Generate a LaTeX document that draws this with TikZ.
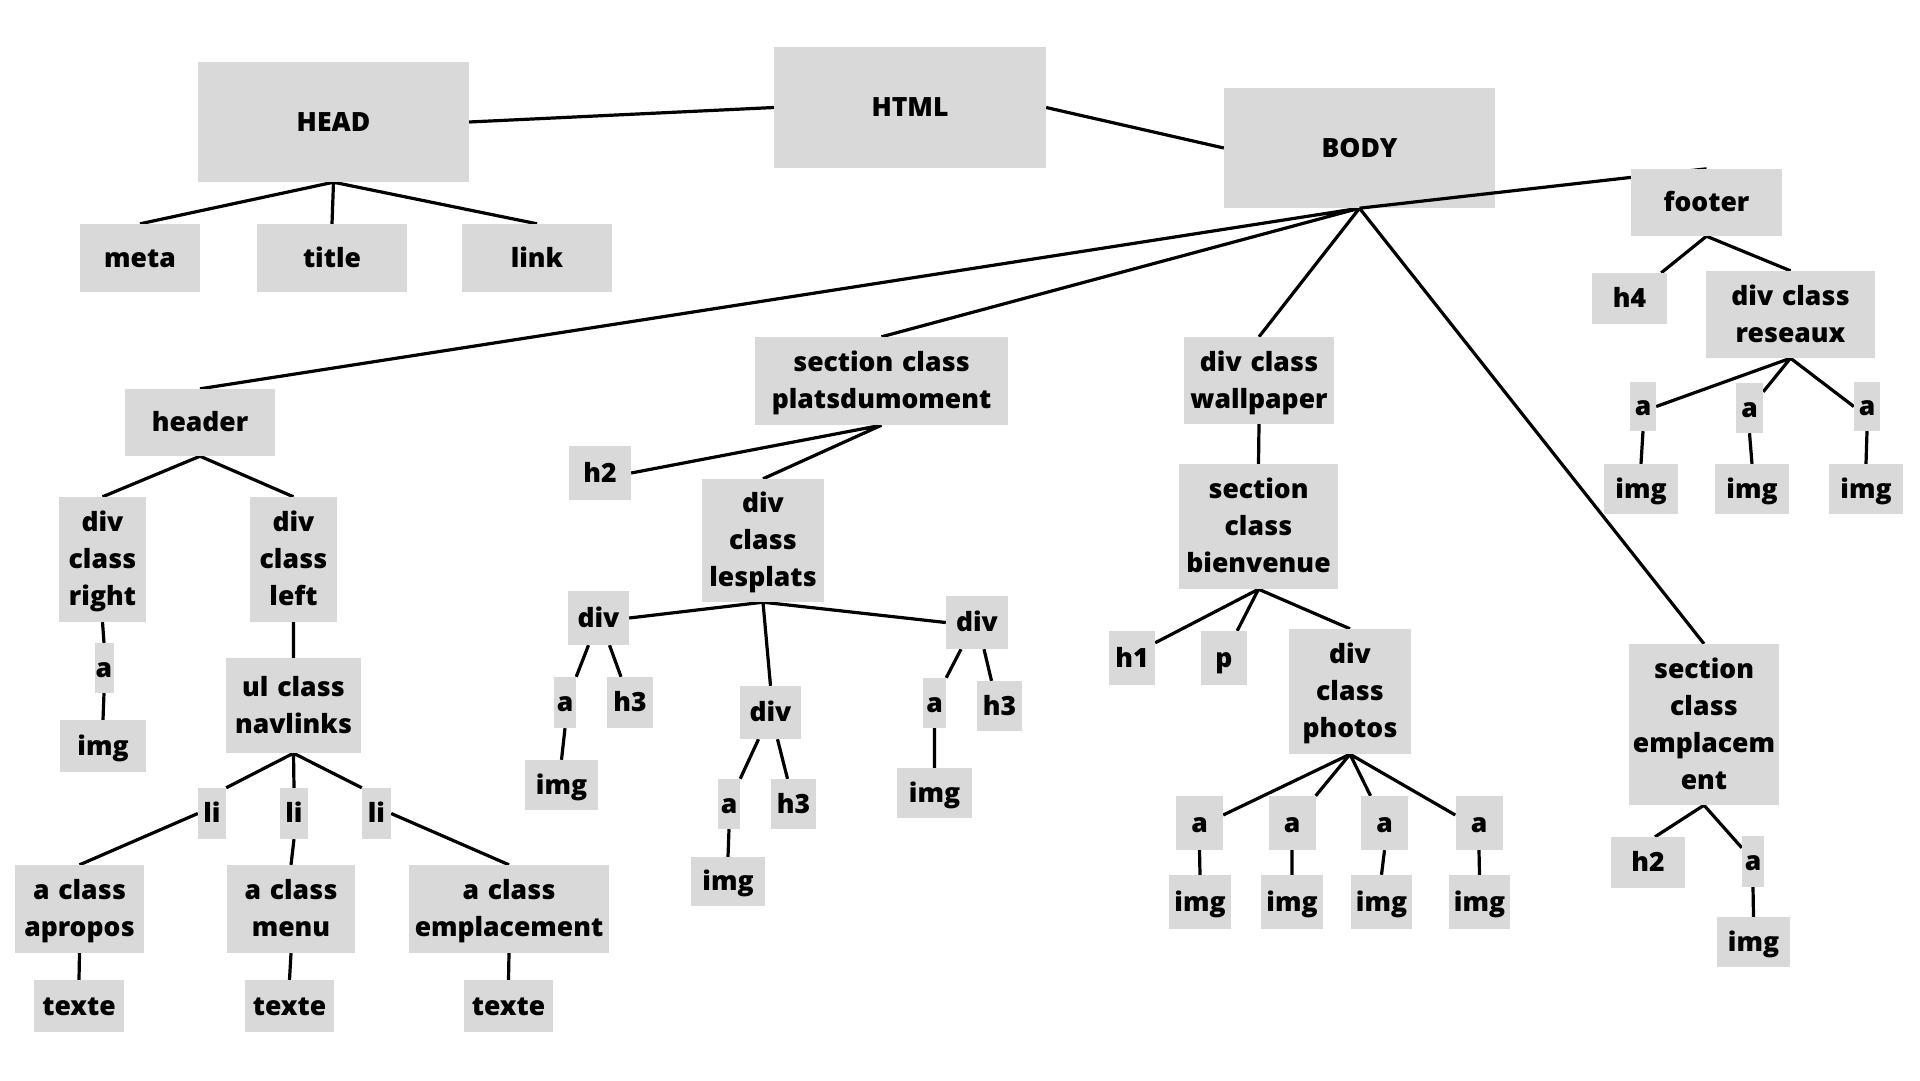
\documentclass[tikz,border=0pt]{standalone}
\usepackage{fontspec}
\IfFontExistsTF{Open Sans ExtraBold}{\setmainfont{Open Sans}[BoldFont={Open Sans ExtraBold}]}
{\IfFontExistsTF{Open Sans Extrabold}{\setmainfont{Open Sans}[BoldFont={Open Sans Extrabold}]}
{\setmainfont{Open Sans}[BoldFeatures={FakeBold=1.5}]}}
\definecolor{tagfill}{HTML}{D9D9D9}
\newcommand\tagstrut{\rule[-9.5pt]{0pt}{37pt}}
\pgfdeclarelayer{bg}\pgfdeclarelayer{fg}\pgfsetlayers{bg,main,fg}

\begin{document}
\begin{tikzpicture}[x=1pt,y=-1pt,
tag/.style={fill=tagfill,inner sep=0pt,align=center,font=\fontsize{26.5}{37}\selectfont\bfseries,
execute at begin node=\tagstrut,execute at end node=\tagstrut},
wh/.style 2 args={text width=#1pt,minimum width=#1pt,minimum height=#2pt},
wire/.style={line width=3.2pt}]
\useasboundingbox(0,0)rectangle(1920,1080);
\node[tag,wh={271}{120}](head)at(333.5,122){HEAD};\node[tag,wh={272}{121}](html)at(910,107.5){HTML};
\node[tag,wh={271}{120}](body)at(1359.5,148){BODY};
\node[tag,wh={120}{68}](meta)at(140,258){meta};\node[tag,wh={150}{68}](title)at(332,258){title};
\node[tag,wh={150}{68}](link)at(537,258){link};
\node[tag,wh={150}{67}](header)at(200,422.5){header};
\node[tag,wh={87}{125}](right)at(102.5,559.5){div\\class\\right};\node[tag,wh={87}{125}](left)at(293.5,559.5){div\\class\\left};
\node[tag,wh={19}{50}](ra)at(104,668){a};\node[tag,wh={86}{52}](rimg)at(103,746){img};
\node[tag,wh={135}{95}](navlinks)at(293.5,705.5){ul class\\navlinks};
\node[tag,wh={28}{51}](li1)at(212,813.5){li};\node[tag,wh={28}{51}](li2)at(294,813.5){li};
\node[tag,wh={29}{51}](li3)at(376.5,813.5){li};
\node[tag,wh={129}{88}](apropos)at(79.5,909){a class\\apropos};\node[tag,wh={128}{88}](menu)at(291,909){a class\\menu};
\node[tag,wh={200}{88}](aempl)at(509,909){a class\\emplacement};
\node[tag,wh={90}{52}](texte1)at(79,1006){texte};\node[tag,wh={89}{52}](texte2)at(289.5,1006){texte};
\node[tag,wh={89}{52}](texte3)at(508.5,1006){texte};
\node[tag,wh={253}{88}](plats)at(881.5,381){section class\\platsdumoment};
\node[tag,wh={62}{54}](h2)at(600,473){h2};\node[tag,wh={122}{123}](lesplats)at(763,540.5){div\\class\\lesplats};
\node[tag,wh={61}{54}](div1)at(598.5,618){div};\node[tag,wh={22}{51}](a1)at(565,702.5){a};
\node[tag,wh={46}{51}](h31)at(630,702.5){h3};\node[tag,wh={73}{50}](img1)at(561.5,785){img};
\node[tag,wh={61}{53}](div2)at(770.5,712.5){div};\node[tag,wh={22}{50}](a2)at(729,804){a};
\node[tag,wh={45}{50}](h32)at(793.5,804){h3};\node[tag,wh={74}{49}](img2)at(728,881.5){img};
\node[tag,wh={62}{53}](div3)at(977,622.5){div};\node[tag,wh={23}{50}](a3)at(934.5,703){a};
\node[tag,wh={45}{50}](h33)at(999.5,706){h3};\node[tag,wh={75}{50}](img3)at(934.5,793){img};
\node[tag,wh={150}{87}](wallpaper)at(1259,380.5){div class\\wallpaper};
\node[tag,wh={159}{125}](bienvenue)at(1258.5,526.5){section\\class\\bienvenue};
\node[tag,wh={46}{54}](h1)at(1132,658){h1};\node[tag,wh={46}{54}](p)at(1224,658){p};
\node[tag,wh={122}{125}](photos)at(1350,691.5){div\\class\\photos};
\node[tag,wh={47}{54}](pa1)at(1199.5,823){a};\node[tag,wh={47}{54}](pa2)at(1292,823){a};
\node[tag,wh={47}{54}](pa3)at(1384.5,823){a};\node[tag,wh={47}{54}](pa4)at(1479,823){a};
\node[tag,wh={62}{54}](pimg1)at(1200,902){img};\node[tag,wh={62}{54}](pimg2)at(1292,902){img};
\node[tag,wh={61}{54}](pimg3)at(1381.5,902){img};\node[tag,wh={61}{54}](pimg4)at(1479.5,902){img};
\node[tag,wh={150}{161}](emplsec)at(1704,724.5){section\\class\\emplacem\\ent};
\node[tag,wh={74}{51}](eh2)at(1648,862.5){h2};\node[tag,wh={22}{51}](ea)at(1753,861.5){a};
\node[tag,wh={73}{50}](eimg)at(1753.5,942){img};
\begin{pgfonlayer}{fg}
\node[tag,wh={151}{67}](footer)at(1706.5,202.5){footer};
\end{pgfonlayer}
\node[tag,wh={75}{51}](h4)at(1629.5,298.5){h4};\node[tag,wh={169}{87}](reseaux)at(1790.5,314.5){div class\\reseaux};
\node[tag,wh={26}{49}](fa1)at(1643,406.5){a};\node[tag,wh={27}{50}](fa2)at(1749.5,408){a};
\node[tag,wh={26}{49}](fa3)at(1867,406.5){a};
\node[tag,wh={74}{50}](fimg1)at(1641,489){img};\node[tag,wh={74}{50}](fimg2)at(1752,489){img};
\node[tag,wh={74}{50}](fimg3)at(1866,489){img};
\draw[wire](body.south)--(footer.north);
\begin{pgfonlayer}{bg}
\fill[white](0,0)rectangle(1920,1080);
\draw[wire](head.east)--(html.west) (html.east)--(body.west);
\draw[wire](head.south)--(meta.north) (head.south)--(title.north) (head.south)--(link.north);
\draw[wire](body.south)--(header.north) (body.south)--(plats.north) (body.south)--(wallpaper.north) (body.south)--(emplsec.north);
\draw[wire](header.south)--(right.north) (header.south)--(left.north);
\draw[wire](right.south)--(ra.north) (ra.south)--(rimg.north) (left.south)--(navlinks.north);
\draw[wire](navlinks.south)--(li1.north east) (navlinks.south)--(li2.north) (navlinks.south)--(li3.north west);
\draw[wire](li1.west)--(apropos.north) (li2.south)--(menu.north) (li3.east)--(aempl.north);
\draw[wire](apropos.south)--(texte1.north) (menu.south)--(texte2.north) (aempl.south)--(texte3.north);
\draw[wire](plats.south)--(h2.east) (plats.south)--(lesplats.north);
\draw[wire](lesplats.south)--(div1.east) (lesplats.south)--(div2.north) (lesplats.south)--(div3.west);
\draw[wire]([xshift=-10pt]div1.south)--(a1.north east) ([xshift=11pt]div1.south)--([xshift=-9pt]h31.north) (a1.south)--(img1.north);
\draw[wire]([xshift=-12pt]div2.south)--(a2.north east) ([xshift=7pt]div2.south)--([xshift=-6pt]h32.north) (a2.south)--(img2.north);
\draw[wire]([xshift=-16pt]div3.south)--(a3.north east) ([xshift=7pt]div3.south)--([xshift=-8pt]h33.north) (a3.south)--(img3.north);
\draw[wire](wallpaper.south)--(bienvenue.north);
\draw[wire](bienvenue.south)--([yshift=-12pt]h1.north east) (bienvenue.south)--([xshift=-10pt]p.north east) (bienvenue.south)--(photos.north);
\draw[wire](photos.south)--([yshift=8pt]pa1.east) (photos.south)--(pa2.north east) (photos.south)--([xshift=-14pt]pa3.north) (photos.south)--([yshift=8pt]pa4.west);
\draw[wire](pa1.south)--(pimg1.north) (pa2.south)--(pimg2.north) (pa3.south)--(pimg3.north) (pa4.south)--(pimg4.north);
\draw[wire](emplsec.south)--([xshift=7pt]eh2.north) (emplsec.south)--([yshift=-12pt]ea.north west) (ea.south)--(eimg.north);
\draw[wire](footer.south)--([xshift=-6pt]h4.north east) (footer.south)--(reseaux.north);
\draw[wire](reseaux.south)--(fa1.east) (reseaux.south)--([yshift=-9pt]fa2.north east) (reseaux.south)--(fa3.west);
\draw[wire](fa1.south)--(fimg1.north) (fa2.south)--(fimg2.north) (fa3.south)--(fimg3.north);
\end{pgfonlayer}
\end{tikzpicture}
\end{document}
